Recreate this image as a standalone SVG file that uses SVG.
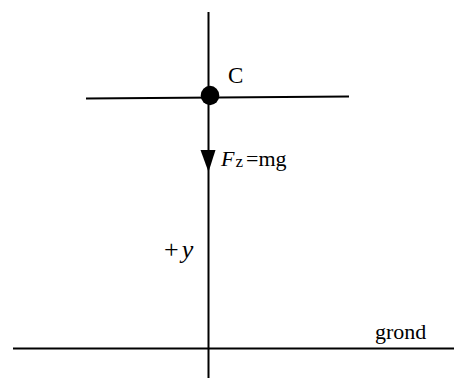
<svg xmlns="http://www.w3.org/2000/svg" width="454" height="378" viewBox="0 0 454 378">
<style>
.ln{stroke:#000;stroke-width:2;fill:none}
.t{font-family:"Liberation Serif","Times New Roman",serif;fill:#000}
</style>
<rect width="454" height="378" fill="#fff"/>
<g id="connectors">
<line class="ln" x1="208.5" y1="12" x2="208.5" y2="378"/>
<line class="ln" x1="86" y1="98.5" x2="349" y2="96.5"/>
<line class="ln" x1="13" y1="348.5" x2="454" y2="348.5"/>
<polygon points="200.5,150 215.5,150 208.5,172" fill="#000"/>
</g>
<g id="C">
<ellipse cx="210" cy="95.5" rx="9.3" ry="9.7" fill="#000"/>
<text class="t" x="228" y="82.5" font-size="23">C</text>
</g>
<g id="force">
<text class="t" y="166" font-size="22"><tspan x="221" font-style="italic">F</tspan><tspan x="235.5" y="167" font-size="17">z</tspan><tspan x="246" y="166">=mg</tspan></text>
</g>
<g id="yaxis">
<text class="t" x="164" y="258" font-size="26">+<tspan font-style="italic" dx="3">y</tspan></text>
</g>
<g id="ground">
<text class="t" x="375" y="339" font-size="22">grond</text>
</g>
</svg>
